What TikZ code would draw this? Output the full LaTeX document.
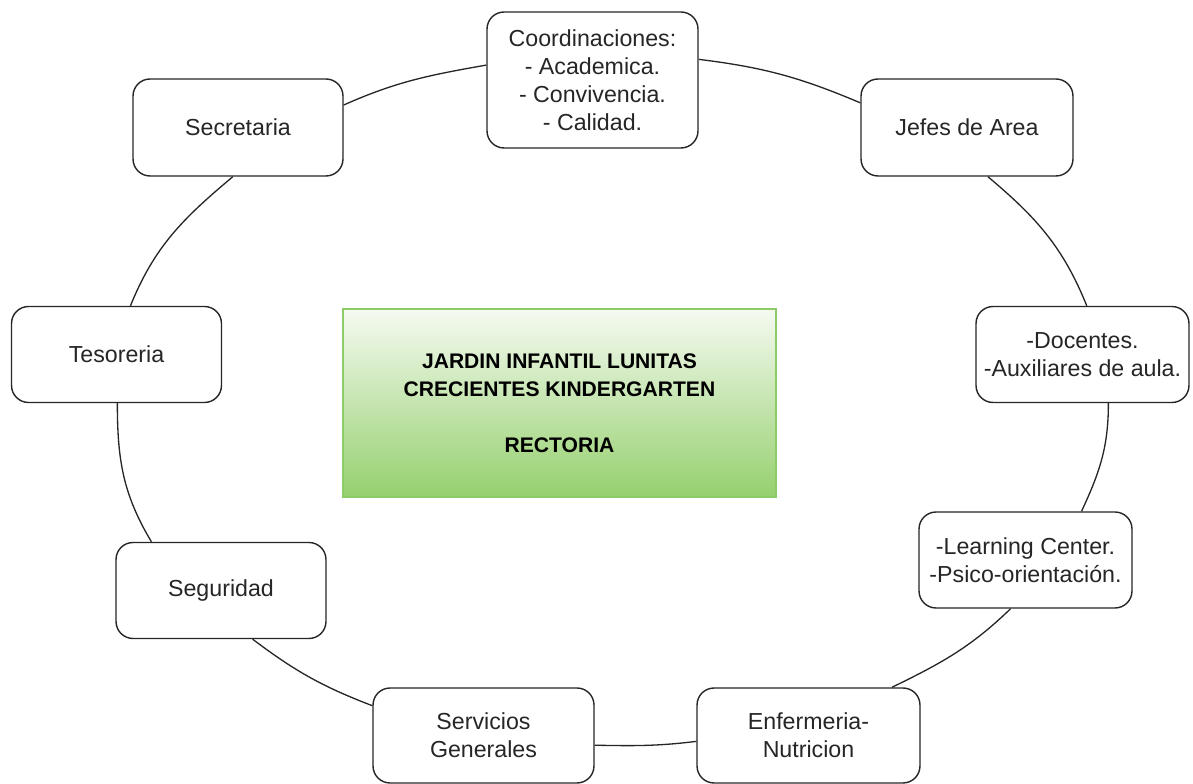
\documentclass[tikz,border=0pt]{standalone}
\usepackage{fontspec}
\setmainfont{Liberation Sans}
\usepackage{xcolor}
\usepackage{tikz}
\definecolor{ink}{HTML}{262626}
\definecolor{greenTop}{HTML}{F5FAF1}
\definecolor{greenBottom}{HTML}{95D06E}
\definecolor{greenEdge}{HTML}{8CCB66}
\tikzset{
  orgBox/.style={draw=ink, line width=0.8pt, rounded corners=0.34cm, fill=white,
    align=center, text=ink, inner sep=0pt, font=\fontsize{13.2}{16}\selectfont,
    minimum width=4.2cm, minimum height=1.94cm},
  orgLink/.style={draw=ink, line width=0.75pt},
  headBox/.style={draw=greenEdge, line width=0.8pt, top color=greenTop, bottom color=greenBottom,
    align=center, text=black, inner sep=0pt, font=\fontsize{12}{16}\selectfont\bfseries,
    minimum width=8.66cm, minimum height=3.76cm}
}
\begin{document}
\begin{tikzpicture}[x=0.02cm, y=0.02cm]
  \useasboundingbox (0,0) rectangle (1193,784);

  \node[headBox] (rect) at (559.5,381) {JARDIN INFANTIL LUNITAS\\CRECIENTES KINDERGARTEN\\[16pt]RECTORIA};

  \node[orgBox, minimum width=4.22cm, minimum height=2.72cm] (coord) at (592.5,704)
    {Coordinaciones:\\- Academica.\\- Convivencia.\\- Calidad.};
  \node[orgBox] (sec) at (238,656.5) {Secretaria};
  \node[orgBox, minimum width=4.24cm] (jefes) at (967,656.5) {Jefes de Area};
  \node[orgBox, minimum height=1.92cm] (tes) at (116.5,429.5) {Tesoreria};
  \node[orgBox, minimum width=4.26cm, minimum height=1.92cm] (doc) at (1082.5,429.5)
    {-Docentes.\\-Auxiliares de aula.};
  \node[orgBox, minimum height=1.92cm] (seg) at (221,193.5) {Seguridad};
  \node[orgBox, minimum width=4.26cm, minimum height=1.92cm] (learn) at (1025.5,224)
    {-Learning Center.\\-Psico-orientación.};
  \node[orgBox, minimum width=4.42cm, minimum height=1.9cm] (serv) at (483.5,48.5) {Servicios\\Generales};
  \node[orgBox, minimum width=4.46cm, minimum height=1.9cm] (enf) at (808.5,48.5) {Enfermeria-\\Nutricion};

  \draw[orgLink] (sec.12) to[out=24, in=190] (coord.172);
  \draw[orgLink] (coord.11) to[out=-7, in=157] (jefes.167);
  \draw[orgLink] (jefes.-67) to[out=-40, in=112] (doc.85);
  \draw[orgLink] (doc.-62) to[out=-90, in=65] (learn.41);
  \draw[orgLink] (learn.-107) to[out=-136, in=26] (enf.30);
  \draw[orgLink] (enf.183) to[out=187, in=-1] (serv.-5);
  \draw[orgLink] (serv.165) to[out=159, in=-37] (seg.-57);
  \draw[orgLink] (seg.145) to[out=121, in=-90] (tes.-89);
  \draw[orgLink] (tes.74) to[out=68, in=220] (sec.-96);
\end{tikzpicture}
\end{document}
